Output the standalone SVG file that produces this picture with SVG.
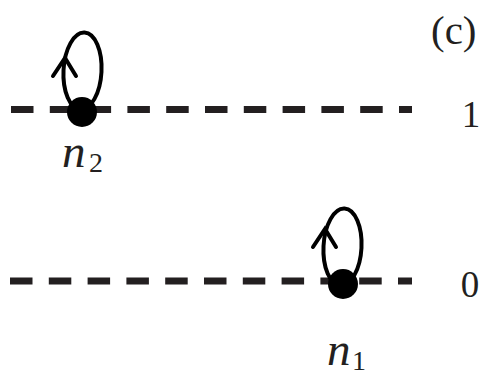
<svg xmlns="http://www.w3.org/2000/svg" width="483" height="379" viewBox="0 0 483 379">
<style>
.dash{stroke:#231f20;stroke-width:7;stroke-dasharray:22.5 16.3;fill:none}
.loop{stroke:#000;stroke-width:4;fill:none}
.arrow{stroke:#000;stroke-width:4;fill:none;stroke-linecap:round;stroke-linejoin:miter}
.dot{fill:#000}
.t{font-family:"Liberation Serif","Times New Roman",serif;fill:#231f20}
.i{font-style:italic}
</style>
<rect width="483" height="379" fill="#fff"/>
<g id="connectors">
<line class="dash" x1="11" y1="109.5" x2="412" y2="109.5"/>
<line class="dash" x1="10" y1="281" x2="412" y2="281"/>
</g>
<g id="node-n2">
<ellipse class="loop" cx="82.5" cy="71" rx="19" ry="38.5" transform="rotate(3 82.5 71)"/>
<polyline class="arrow" points="53,76 65,58 76,76"/>
<circle class="dot" cx="82" cy="112" r="15"/>
<text class="t i" x="62" y="167" font-size="47">n</text>
<text class="t" x="89" y="172" font-size="28">2</text>
</g>
<g id="node-n1">
<ellipse class="loop" cx="342.5" cy="247" rx="19" ry="38.5" transform="rotate(3 342.5 247)"/>
<polyline class="arrow" points="313,247 325,229 336,247"/>
<circle class="dot" cx="343" cy="284" r="15"/>
<text class="t i" x="327" y="365" font-size="47">n</text>
<text class="t" x="352" y="370" font-size="28">1</text>
</g>
<g id="labels">
<text class="t" x="431" y="44" font-size="41">(c)</text>
<text class="t" x="471" y="127" font-size="37" text-anchor="middle">1</text>
<text class="t" x="470" y="297" font-size="37" text-anchor="middle">0</text>
</g>
</svg>
